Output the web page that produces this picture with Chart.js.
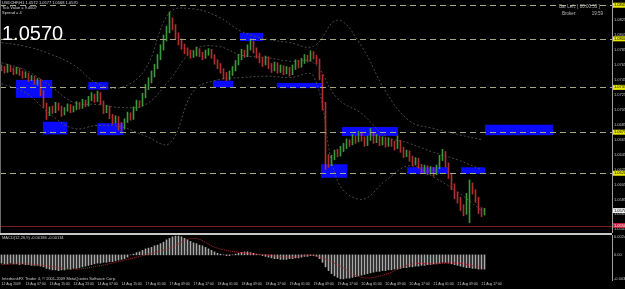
<!DOCTYPE html>
<html><head><meta charset="utf-8">
<script src="https://cdn.jsdelivr.net/npm/chart.js@4.4.1/dist/chart.umd.min.js"></script>
<style>
html,body{margin:0;padding:0;background:#000;width:625px;height:289px;overflow:hidden;}
#main{position:absolute;left:0;top:0;}
#macd{position:absolute;left:0;top:235px;}
#sep{position:absolute;left:0;top:233px;width:612px;height:2px;background:#c8c8c8;}
#lft{position:absolute;left:0;top:0;width:1px;height:233px;background:#6a6a6a;}
</style></head>
<body>
<canvas id="main" width="625" height="233"></canvas>
<div id="sep"></div>
<div id="lft"></div>
<canvas id="macd" width="625" height="54"></canvas>
<script>
// ---------- DATA ----------
const timeLabels = ["12 Aug 2009","13 Aug 07:00","13 Aug 15:00","13 Aug 23:00","14 Aug 07:00","14 Aug 15:00",
 "17 Aug 01:00","17 Aug 09:00","17 Aug 17:00","18 Aug 01:00","18 Aug 09:00","18 Aug 17:00",
 "19 Aug 01:00","19 Aug 09:00","19 Aug 17:00","20 Aug 01:00","20 Aug 09:00","20 Aug 17:00",
 "21 Aug 01:00","21 Aug 09:00","21 Aug 17:00"];

const firstOpen = 1.0762;
const closes = [1.0760,1.0757,1.0762,1.0758,1.0755,1.0759,1.0754, 1.0750,1.0752,1.0746,1.0748,1.0742,1.0744,
 1.0728,1.0712,1.0700, 1.0706,1.0703,1.0712,1.0708,1.0700,1.0705,1.0710,1.0704,1.0707,1.0713,1.0709,
 1.0716,1.0712,1.0720,1.0724,1.0718,1.0726, 1.0715,1.0704,1.0708,1.0697,1.0690,1.0694,1.0684,1.0682,
 1.0690,1.0698,1.0694,1.0706,1.0714, 1.0712,1.0724,1.0735,1.0744,1.0752,1.0762,1.0775,1.0788,1.0800,1.0812,1.0824,
 1.0816,1.0805,1.0797,1.0790,1.0784, 1.0782,1.0778,1.0780,1.0785,1.0779,1.0776,1.0781,1.0783,1.0777,
 1.0770,1.0764,1.0758,1.0752,1.0748,1.0754, 1.0760,1.0768,1.0775,1.0782,1.0779,1.0788,1.0794,
 1.0785,1.0778,1.0772,1.0768,1.0774,1.0764,1.0760,1.0766,1.0758,1.0762,1.0756,
 1.0760,1.0754,1.0762,1.0768,1.0764,1.0770,1.0776,1.0772,1.0780,1.0776,1.0771,
 1.0750,1.0712,1.0640, 1.0634,1.0641,1.0648,1.0645,1.0652,
 1.0656,1.0662,1.0660,1.0668,1.0664,1.0671,1.0667,1.0660,1.0666,1.0672,1.0664,1.0668,1.0661,1.0666,1.0659,1.0664,1.0660,1.0655,1.0662,
 1.0652,1.0645,1.0648,1.0640,1.0634,1.0638, 1.0630,1.0624,1.0628,1.0622,1.0626,1.0620,1.0628,
 1.0640,1.0647, 1.0632,1.0618,1.0604,1.0592, 1.0586,1.0575,1.0568, 1.0590, 1.0605, 1.0596,1.0586,1.0572, 1.0566,1.0570];
const highs = [1.0765,1.0763,1.0766,1.0764,1.0761,1.0762,1.0761, 1.0757,1.0756,1.0754,1.0751,1.0750,1.0747,
 1.0746,1.0731,1.0714, 1.0709,1.0710,1.0715,1.0714,1.0710,1.0708,1.0713,1.0712,1.0710,1.0716,1.0715,
 1.0719,1.0718,1.0723,1.0728,1.0726,1.0730, 1.0728,1.0717,1.0711,1.0710,1.0699,1.0697,1.0696,1.0688,
 1.0693,1.0702,1.0701,1.0709,1.0718, 1.0717,1.0727,1.0739,1.0748,1.0757,1.0766,1.0779,1.0792,1.0805,1.0817,1.0836,
 1.0828,1.0819,1.0808,1.0800,1.0793, 1.0788,1.0785,1.0784,1.0789,1.0787,1.0782,1.0785,1.0787,1.0786,
 1.0779,1.0772,1.0767,1.0760,1.0755,1.0757, 1.0763,1.0771,1.0779,1.0786,1.0785,1.0792,1.0800,
 1.0797,1.0788,1.0781,1.0775,1.0777,1.0776,1.0767,1.0769,1.0768,1.0765,1.0764,
 1.0763,1.0762,1.0765,1.0772,1.0771,1.0774,1.0779,1.0778,1.0784,1.0783,1.0778,
 1.0773,1.0752,1.0715, 1.0645,1.0644,1.0651,1.0652,1.0656,
 1.0660,1.0666,1.0665,1.0672,1.0670,1.0676,1.0674,1.0669,1.0670,1.0680,1.0675,1.0672,1.0670,1.0669,1.0668,1.0667,1.0666,1.0663,1.0670,
 1.0664,1.0655,1.0651,1.0650,1.0643,1.0641, 1.0640,1.0632,1.0631,1.0630,1.0629,1.0628,1.0631,
 1.0644,1.0652, 1.0649,1.0634,1.0620,1.0606, 1.0595,1.0588,1.0578, 1.0593, 1.0611, 1.0607,1.0598,1.0588, 1.0574,1.0573];
const lows = [1.0757,1.0754,1.0755,1.0756,1.0752,1.0753,1.0751, 1.0747,1.0748,1.0743,1.0744,1.0739,1.0738,
 1.0724,1.0708,1.0692, 1.0697,1.0700,1.0701,1.0704,1.0696,1.0698,1.0703,1.0701,1.0702,1.0705,1.0706,
 1.0707,1.0709,1.0710,1.0717,1.0715,1.0716, 1.0712,1.0700,1.0701,1.0693,1.0686,1.0687,1.0678,1.0676,
 1.0679,1.0688,1.0691,1.0692,1.0704, 1.0708,1.0710,1.0721,1.0732,1.0741,1.0749,1.0760,1.0772,1.0785,1.0797,1.0808,
 1.0812,1.0800,1.0792,1.0786,1.0780, 1.0778,1.0774,1.0775,1.0777,1.0776,1.0772,1.0774,1.0778,1.0774,
 1.0766,1.0760,1.0754,1.0746,1.0744,1.0745, 1.0751,1.0757,1.0765,1.0772,1.0775,1.0776,1.0785,
 1.0781,1.0774,1.0768,1.0763,1.0765,1.0760,1.0755,1.0757,1.0754,1.0755,1.0752,
 1.0753,1.0750,1.0752,1.0759,1.0761,1.0762,1.0767,1.0769,1.0770,1.0773,1.0766,
 1.0745,1.0705,1.0625, 1.0628,1.0630,1.0638,1.0642,1.0643,
 1.0649,1.0653,1.0656,1.0658,1.0660,1.0662,1.0663,1.0656,1.0657,1.0664,1.0660,1.0661,1.0657,1.0658,1.0655,1.0656,1.0656,1.0651,1.0653,
 1.0648,1.0641,1.0642,1.0636,1.0630,1.0631, 1.0627,1.0620,1.0621,1.0618,1.0619,1.0616,1.0618,
 1.0626,1.0637, 1.0628,1.0613,1.0598,1.0586, 1.0580,1.0570,1.0563, 1.0565, 1.0554, 1.0592,1.0581,1.0566, 1.0562,1.0564];

// Bollinger bands read every 8th bar
const bbUpper  = [1.0795,1.0790,1.0780,1.0765,1.0740,1.0735,1.0760,1.0835,1.0840,1.0830,1.0810,1.0800,1.0795,1.0790,1.0825,1.0790,1.0730,1.0690,1.0680,1.0672,1.0665];
const bbMiddle = [1.0768,1.0758,1.0738,1.0715,1.0712,1.0708,1.0712,1.0745,1.0785,1.0790,1.0778,1.0775,1.0770,1.0768,1.0720,1.0700,1.0670,1.0660,1.0648,1.0638,1.0625];
const bbLower  = [1.0740,1.0728,1.0700,1.0680,1.0684,1.0682,1.0670,1.0660,1.0730,1.0745,1.0748,1.0750,1.0748,1.0750,1.0610,1.0585,1.0610,1.0630,1.0615,1.0595,1.0570];

const macdHist = [-0.0011,-0.0012,-0.0012,-0.0011,-0.0012,-0.0012,-0.0013,-0.0012,-0.0013,-0.0013,-0.0014,-0.0014,-0.0014,-0.0015,
 -0.0016,-0.0018,-0.0019,-0.0020,-0.0020,-0.0021,-0.0020,-0.0020,-0.0019,-0.0019,-0.0018,-0.0018,-0.0017,-0.0016,-0.0015,-0.0014,
 -0.0013,-0.0012,-0.0011,-0.0011,-0.0010,-0.0010,-0.0009,-0.0009,-0.0008,-0.0007,-0.0006,-0.0005,-0.0003,
 0.0000,0.0001,0.0003,0.0004,0.0006,0.0008,0.0009,0.0010,0.0012,0.0013,0.0015,0.0017,0.0020,0.0022,0.0024,0.0025,
 0.0025,0.0024,0.0022,0.0020,0.0018,0.0016,0.0015,0.0013,0.0012,0.0010,
 0.0008,0.0006,0.0004,0.0002,0.0001,0.0000,-0.0001,-0.0001,
 0.0000,0.0001,0.0002,0.0003,0.0004,0.0004,0.0003,0.0002,0.0001,0.0000,
 -0.0001,-0.0002,-0.0003,-0.0004,-0.0005,-0.0005,-0.0006,-0.0006,-0.0006,-0.0005,-0.0005,-0.0004,-0.0004,-0.0003,-0.0002,-0.0002,-0.0001,-0.0001,-0.0002,
 -0.0005,-0.0010,-0.0016,-0.0021,-0.0025,-0.0028,-0.0030,-0.0032,
 -0.0032,-0.0031,-0.0031,-0.0030,-0.0029,-0.0028,-0.0027,-0.0026,-0.0025,
 -0.0024,-0.0023,-0.0022,-0.0022,-0.0021,-0.0021,-0.0020,-0.0020,-0.0019,-0.0019,
 -0.0018,-0.0017,-0.0017,-0.0016,-0.0016,-0.0015,-0.0015,-0.0014,-0.0014,-0.0013,-0.0013,-0.0012,-0.0012,-0.0011,-0.0010,
 -0.0010,-0.0011,-0.0012,-0.0013,-0.0014,-0.0015,-0.0016,-0.0017,-0.0017,-0.0018,-0.0018,-0.0019,-0.0019,-0.0019];
const macdSignal = [-0.0013,-0.0012,-0.0015,-0.0019,-0.0015,-0.0008,0.0000,0.0009,0.0022,0.0009,0.0003,0.0000,-0.0003,-0.0001,-0.0013,-0.0030,-0.0026,-0.0013,-0.0012,-0.0011,-0.0017];

const priceTicks = [1.0825,1.0805,1.0785,1.0765,1.0745,1.0725,1.0705,1.0685,1.0665,1.0645,1.0625,1.0605,1.0585,1.0565,1.0545];
const levels = [1.0845,1.0800,1.0735,1.0675,1.0620];
const redLevel = 1.0550;
const bidPrice = 1.0570;
const macdTicks = [0.00244, 0, -0.00324];
// boxes: [start bar, end bar, top price, bottom price]
const boxes = [[4.8,16.9,1.0745,1.0721],[13.8,21.9,1.0689,1.0672],[28.9,35.6,1.0742,1.0732],[31.9,40.5,1.0687,1.0671],
 [70.5,77.2,1.0744,1.0735],[79.5,87.2,1.0808,1.0797],[91.8,107.2,1.0741,1.0734],[106.5,115.2,1.0632,1.0614],
 [113.5,132.2,1.0682,1.0670],[135.2,149.2,1.0628,1.0619],[153.2,161.2,1.0628,1.0619],[161.2,183.8,1.0685,1.0671]];
const infoLines = ["USDCHF,H1 1.0572 1.0577 1.0568 1.0570","Tick Value = 9.4607","Spread = 4"];

// ---------- BUILD ----------
Chart.defaults.font.family = "'Liberation Sans', Arial, sans-serif";
const TOTAL_SLOTS = 204, STEP = 8;
const slotLabels = Array.from({length: TOTAL_SLOTS}, (_, i) => (i % STEP === 0 && timeLabels[i / STEP]) ? timeLabels[i / STEP] : '');
const opens = closes.map((c, i) => i === 0 ? firstOpen : closes[i - 1]);
const candleColors = closes.map((c, i) => c >= opens[i] ? '#3d963d' : '#ae3030');
const wicks = highs.map((h, i) => [lows[i], h]);

const sparse = arr => { const out = new Array(closes.length).fill(null); arr.forEach((v, k) => { out[k * STEP] = v; }); return out; };

const bandStyle = {type: 'line', borderColor: '#4a4a4a', borderWidth: 1, borderDash: [2, 2], pointRadius: 0, spanGaps: true, tension: 0.4, order: 5};

const mainDecor = {
  id: 'mainDecor',
  beforeDatasetsDraw(chart) {
    const {ctx, scales: {x, y}} = chart;
    ctx.save();
    ctx.fillStyle = '#0a0aff';
    boxes.forEach(b => {
      const x1 = x.getPixelForValue(b[0]), x2 = x.getPixelForValue(b[1]);
      const y1 = y.getPixelForValue(b[2]), y2 = y.getPixelForValue(b[3]);
      ctx.fillRect(x1, y1, x2 - x1, y2 - y1);
    });
    ctx.restore();
  },
  afterDatasetsDraw(chart) {
    const {ctx, chartArea: a, scales: {y}} = chart;
    ctx.save();
    ctx.strokeStyle = '#a8a880'; ctx.lineWidth = 1; ctx.setLineDash([6, 4]);
    levels.forEach(v => { const py = Math.round(y.getPixelForValue(v)) + 0.5; ctx.beginPath(); ctx.moveTo(a.left, py); ctx.lineTo(a.right, py); ctx.stroke(); });
    ctx.setLineDash([]); ctx.strokeStyle = '#7a1c1c';
    const ry = Math.round(y.getPixelForValue(redLevel)) + 0.5;
    ctx.beginPath(); ctx.moveTo(a.left, ry); ctx.lineTo(a.right, ry); ctx.stroke();
    ctx.restore();
  },
  afterDraw(chart) {
    const {ctx, chartArea: a, scales: {y}} = chart;
    ctx.save();
    ctx.font = "4px 'Liberation Sans'"; ctx.textBaseline = 'middle'; ctx.textAlign = 'left';
    const tag = (v, bg, fg) => { const py = y.getPixelForValue(v); ctx.fillStyle = bg; ctx.fillRect(a.right + 1, py - 2.5, 12, 5); ctx.fillStyle = fg; ctx.fillText(v.toFixed(4), a.right + 2, py); };
    levels.forEach(v => tag(v, '#e8e800', '#000'));
    tag(bidPrice, '#f0f0f0', '#000');
    tag(redLevel, '#c8203c', '#fff');
    ctx.fillStyle = '#d8d8d8';
    infoLines.forEach((t, k) => ctx.fillText(t, 2, 3 + k * 5));
    ctx.fillStyle = '#bbbbbb';
    ctx.font = "4.5px 'Liberation Sans'";
    ctx.fillText('Bar Left: [ 00:00:53 ]', 559, 7);
    ctx.fillText('Broker:', 562, 14);
    ctx.textAlign = 'right'; ctx.fillText('19:59', 603, 14);
    ctx.textAlign = 'left'; ctx.textBaseline = 'alphabetic';
    ctx.fillStyle = '#ffffff'; ctx.font = "20px 'Liberation Sans'";
    ctx.fillText(bidPrice.toFixed(4), 2, 39.5);
    ctx.restore();
  }
};

new Chart(document.getElementById('main'), {
  type: 'bar',
  data: {labels: slotLabels, datasets: [
    Object.assign({data: sparse(bbUpper)}, bandStyle),
    Object.assign({data: sparse(bbMiddle)}, bandStyle),
    Object.assign({data: sparse(bbLower)}, bandStyle),
    {data: wicks, backgroundColor: candleColors, barThickness: 1, grouped: false, order: 2}
  ]},
  options: {
    responsive: false, animation: false, events: [],
    layout: {padding: 0},
    plugins: {legend: {display: false}, tooltip: {enabled: false}},
    scales: {
      x: {display: false, offset: true},
      y: {position: 'right', min: 1.0540, max: 1.0852,
        grid: {display: false, drawTicks: false},
        border: {color: '#a0a0a0'},
        ticks: {color: '#c0c0c0', font: {size: 4}, padding: 2, callback: v => Number(v).toFixed(4)},
        afterBuildTicks: s => { s.ticks = priceTicks.map(v => ({value: v})); },
        afterFit: s => { s.width = 13; s.paddingTop = 0; s.paddingBottom = 0; }
      }
    }
  },
  plugins: [mainDecor]
});

const macdDecor = {
  id: 'macdDecor',
  afterDraw(chart) {
    const {ctx} = chart;
    ctx.save();
    ctx.font = "4px 'Liberation Sans'"; ctx.textBaseline = 'middle'; ctx.fillStyle = '#c8c8c8';
    ctx.fillText('MACD(12,26,9) -0.00186 -0.00134', 2, 3);
    ctx.fillText('InterbankFX Trader 4, \u00a9 2001-2009 MetaQuotes Software Corp.', 2, 43.5);
    ctx.restore();
  }
};

new Chart(document.getElementById('macd'), {
  type: 'bar',
  data: {labels: slotLabels, datasets: [
    {type: 'line', data: sparse(macdSignal), borderColor: '#b02828', borderWidth: 1, borderDash: [1, 1], pointRadius: 0, spanGaps: true, tension: 0.4, order: 1},
    {data: macdHist, backgroundColor: '#a8a8a8', barThickness: 1, order: 2}
  ]},
  options: {
    responsive: false, animation: false, events: [],
    layout: {padding: 0},
    plugins: {legend: {display: false}, tooltip: {enabled: false}},
    scales: {
      x: {offset: true, grid: {display: false, drawTicks: false}, border: {display: false},
        ticks: {color: '#c8c8c8', font: {size: 3.4}, autoSkip: false, maxRotation: 0, minRotation: 0, align: 'start', padding: 2},
        afterFit: s => { s.height = 9; s.paddingLeft = 0; s.paddingRight = 0; }
      },
      y: {position: 'right', min: -0.00335, max: 0.00265,
        grid: {display: false, drawTicks: false},
        border: {color: '#a0a0a0'},
        ticks: {color: '#c0c0c0', font: {size: 4}, padding: 2, callback: v => v === 0 ? '0.00' : Number(v).toFixed(5)},
        afterBuildTicks: s => { s.ticks = macdTicks.map(v => ({value: v})); },
        afterFit: s => { s.width = 13; s.paddingTop = 0; s.paddingBottom = 0; }
      }
    }
  },
  plugins: [macdDecor]
});
</script>
</body></html>
